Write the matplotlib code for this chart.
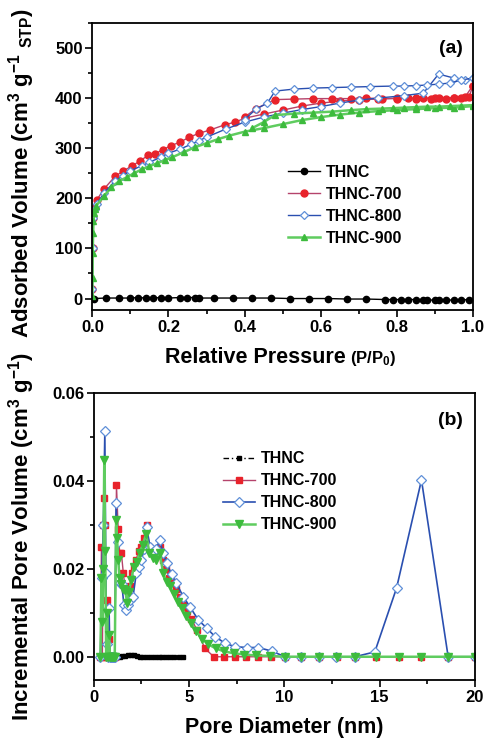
import numpy as np
import matplotlib
matplotlib.use("Agg")
import matplotlib.pyplot as plt
from matplotlib.ticker import MultipleLocator

plt.rcParams['font.family'] = ['Liberation Sans', 'DejaVu Sans']
plt.rcParams['font.weight'] = 'bold'
plt.rcParams['axes.labelweight'] = 'bold'
plt.rcParams['mathtext.fontset'] = 'custom'
plt.rcParams['mathtext.rm'] = 'Liberation Sans:bold'
plt.rcParams['mathtext.it'] = 'Liberation Sans:bold'
plt.rcParams['mathtext.bf'] = 'Liberation Sans:bold'
plt.rcParams['mathtext.default'] = 'rm'

labels = ['THNC', 'THNC-700', 'THNC-800', 'THNC-900']

# ---- (a) N2 isotherms ----
p_thnc = [0.005, 0.035, 0.07, 0.10, 0.12, 0.14, 0.16, 0.18, 0.20, 0.23, 0.25, 0.27, 0.28,
          0.32, 0.37, 0.42, 0.47, 0.52, 0.57, 0.62, 0.67, 0.72, 0.77, 0.79, 0.81, 0.83,
          0.85, 0.87, 0.88, 0.90, 0.91, 0.93, 0.95, 0.97, 0.99]
v_thnc = [0, 1, 1, 1, 2, 1, 1, 2, 1, 2, 2, 2, 1, 1, 1, 1, 1, 0, 0, 0, -1, -1, -2, -2,
          -2, -2, -2, -3, -3, -3, -3, -3, -3, -3, -2]

p_700_ads = [0.0002, 0.001, 0.003, 0.006, 0.011, 0.031, 0.060, 0.080, 0.103, 0.124, 0.147,
             0.165, 0.185, 0.206, 0.230, 0.255, 0.281, 0.308, 0.349, 0.375, 0.401, 0.45,
             0.50, 0.55, 0.60, 0.65, 0.70, 0.75, 0.80, 0.85, 0.90, 0.95, 0.98, 1.0]
v_700_ads = [20, 100, 160, 180, 196, 219, 244, 254, 264, 274, 286, 289, 297, 305, 312, 322,
             330, 336, 347, 352, 360, 368, 376, 384, 390, 394, 397, 398, 400, 400, 400,
             401, 403, 425]
p_700_des = [1.0, 0.99, 0.97, 0.95, 0.93, 0.91, 0.89, 0.87, 0.85, 0.83, 0.80, 0.76, 0.72,
             0.68, 0.63, 0.58, 0.53, 0.48, 0.43, 0.40]
v_700_des = [425, 402, 400, 400, 399, 400, 399, 400, 399, 400, 399, 399, 400, 399, 399,
             399, 398, 397, 379, 362]

p_800_ads = [0.0002, 0.001, 0.003, 0.006, 0.011, 0.03, 0.06, 0.08, 0.10, 0.13, 0.15, 0.18,
             0.20, 0.23, 0.26, 0.28, 0.30, 0.35, 0.40, 0.45, 0.50, 0.55, 0.60, 0.65, 0.70,
             0.75, 0.82, 0.87, 0.91, 0.95, 0.98, 1.0]
v_800_ads = [20, 100, 160, 178, 188, 210, 235, 245, 255, 265, 272, 282, 290, 298, 308, 315,
             322, 338, 352, 362, 370, 377, 383, 390, 396, 400, 405, 410, 448, 440, 437, 440]
p_800_des = [1.0, 0.97, 0.94, 0.91, 0.88, 0.85, 0.82, 0.79, 0.73, 0.68, 0.63, 0.58, 0.53,
             0.48, 0.46, 0.43, 0.40]
v_800_des = [440, 436, 430, 428, 426, 425, 424, 424, 423, 422, 421, 420, 418, 414, 390,
             378, 357]

p_900_ads = [0.0002, 0.0005, 0.001, 0.002, 0.003, 0.005, 0.007, 0.01, 0.03, 0.05, 0.07, 0.09,
             0.11, 0.13, 0.15, 0.17, 0.19, 0.21, 0.24, 0.27, 0.30, 0.33, 0.36, 0.40, 0.45,
             0.50, 0.55, 0.60, 0.65, 0.70, 0.75, 0.80, 0.85, 0.90, 0.95, 1.0]
v_900_ads = [5, 40, 90, 130, 155, 170, 178, 185, 204, 222, 234, 242, 250, 258, 264, 270, 276,
             282, 292, 302, 310, 318, 325, 333, 340, 348, 356, 362, 367, 371, 374, 376, 378,
             380, 381, 384]
p_900_des = [1.0, 0.97, 0.94, 0.91, 0.88, 0.85, 0.82, 0.79, 0.76, 0.72, 0.68, 0.63, 0.58,
             0.53, 0.48, 0.45, 0.42]
v_900_des = [386, 385, 384, 383, 383, 382, 381, 380, 379, 378, 376, 373, 371, 369, 366,
             352, 340]

# ---- (b) pore size distribution ----
d_thnc = [0.40, 0.50, 0.60, 0.70, 0.80, 0.90, 1.00, 1.10, 1.20, 1.35, 1.50, 1.65, 1.80, 1.95,
          2.10, 2.25, 2.40, 2.60, 2.80, 3.00, 3.20, 3.40, 3.60, 3.80, 4.00, 4.20, 4.45, 4.70]
pv_thnc = [0, 0, 0, 0, 0, 0, 0, 0, 0, 0, 0.0001, 0.0002, 0.0005, 0.0005, 0.0003, 0.0001, 0,
           0, 0, 0, 0, 0, 0, 0, 0, 0, 0, 0]

d_700 = [0.35, 0.40, 0.45, 0.50, 0.55, 0.60, 0.65, 0.70, 0.75, 0.79, 0.85, 0.89, 0.95, 1.00,
         1.05, 1.10, 1.19, 1.28, 1.36, 1.45, 1.55, 1.65, 1.78, 1.89, 2.00, 2.10, 2.22, 2.35,
         2.50, 2.62, 2.77, 2.92, 3.10, 3.28, 3.46, 3.62, 3.78, 3.95, 4.12, 4.30, 4.50, 4.70,
         4.90, 5.12, 5.42, 5.83, 6.30, 6.85, 7.40, 8.00, 8.60, 9.30, 10.05, 10.9, 11.8,
         12.75, 13.7, 14.8, 16.0, 17.2, 18.6, 20.0]
pv_700 = [0, 0.025, 0, 0.030, 0.036, 0.030, 0, 0.013, 0, 0.004, 0, 0, 0, 0, 0, 0, 0.039,
          0.029, 0.0235, 0.0235, 0.019, 0.0155, 0.015, 0.016, 0.019, 0.0205, 0.022, 0.024,
          0.025, 0.027, 0.030, 0.025, 0.0235, 0.024, 0.025, 0.022, 0.020, 0.018, 0.017,
          0.0155, 0.0135, 0.0118, 0.0105, 0.0087, 0.0060, 0.0019, 0, 0, 0, 0, 0, 0, 0, 0,
          0, 0, 0, 0, 0, 0, 0, 0]

d_800 = [0.35, 0.42, 0.50, 0.58, 0.63, 0.68, 0.73, 0.80, 0.85, 0.90, 0.95, 1.00, 1.05, 1.10,
         1.17, 1.25, 1.36, 1.47, 1.58, 1.71, 1.80, 1.92, 2.06, 2.23, 2.37, 2.50, 2.64, 2.77,
         2.95, 3.11, 3.28, 3.46, 3.64, 3.82, 4.08, 4.34, 4.69, 5.04, 5.48, 5.93, 6.36, 6.88,
         7.40, 8.02, 8.63, 9.33, 10.04, 10.9, 11.8, 12.7, 13.7, 14.75, 15.89, 17.2, 18.6,
         20.0]
pv_800 = [0, 0.018, 0.030, 0.0513, 0.019, 0.003, 0, 0.011, 0, 0, 0, 0, 0, 0, 0.0349, 0.026,
          0.0167, 0.0165, 0.0118, 0.0106, 0.0118, 0.0130, 0.0137, 0.0190, 0.0205, 0.0220,
          0.0245, 0.0296, 0.0250, 0.0239, 0.0245, 0.0266, 0.0235, 0.0213, 0.0188, 0.0167,
          0.0137, 0.0114, 0.0084, 0.0065, 0.0046, 0.0031, 0.0023, 0.0021, 0.0021, 0.0013,
          0, 0, 0, 0, 0, 0.0011, 0.0156, 0.0402, 0, 0]

d_900 = [0.35, 0.40, 0.45, 0.50, 0.55, 0.60, 0.65, 0.70, 0.75, 0.80, 0.85, 0.90, 0.95, 1.00,
         1.05, 1.10, 1.17, 1.22, 1.28, 1.35, 1.45, 1.55, 1.65, 1.75, 1.85, 1.97, 2.10, 2.25,
         2.40, 2.57, 2.75, 2.92, 3.10, 3.28, 3.46, 3.64, 3.82, 4.00, 4.20, 4.40, 4.62, 4.85,
         5.10, 5.38, 5.68, 6.02, 6.40, 6.85, 7.35, 7.90, 8.50, 9.25, 10.05, 10.9, 11.8,
         12.75, 13.7, 14.8, 16.0, 17.2, 18.6, 20.0]
pv_900 = [0, 0.018, 0.008, 0.020, 0.0448, 0.024, 0, 0.010, 0, 0.005, 0, 0, 0, 0, 0, 0, 0.031,
          0.027, 0.022, 0.018, 0.0165, 0.0155, 0.0152, 0.0122, 0.0148, 0.0175, 0.0205,
          0.0215, 0.0235, 0.0255, 0.0280, 0.0235, 0.0225, 0.0220, 0.0236, 0.0190, 0.0170,
          0.0160, 0.0142, 0.0125, 0.0110, 0.0093, 0.0076, 0.0058, 0.0041, 0.0028, 0.0019,
          0.0012, 0.0008, 0.0005, 0.0003, 0.0002, 0, 0, 0, 0, 0, 0, 0, 0, 0, 0]

red_m, red_l = '#e8232b', '#b5436b'
blue_l, blue_m = '#2a4fb0', '#5f8fd8'
green_m, green_l = '#3dbb3d', '#5fcc5f'

fig = plt.figure(figsize=(4.86, 7.40), dpi=100)
ax1 = fig.add_axes([0.190, 0.581, 0.783, 0.388])
ax2 = fig.add_axes([0.193, 0.081, 0.784, 0.388])

for ax in (ax1, ax2):
    for s in ax.spines.values():
        s.set_linewidth(1.3)
    ax.tick_params(which='both', direction='out', top=False, right=False, width=1.2,
                   labelsize=12, pad=2)
    ax.tick_params(which='major', length=5)
    ax.tick_params(which='minor', length=3)

# (a)
ax1.plot(p_thnc, v_thnc, '-', color='black', lw=1.0, marker='o', ms=4.5, mfc='black',
         mec='black', label=labels[0])
ax1.plot(p_700_ads, v_700_ads, '-', color=red_l, lw=1.0, marker='o', ms=5, mfc=red_m,
         mec=red_m, label=labels[1])
ax1.plot(p_700_des, v_700_des, '-', color=red_l, lw=1.0, marker='o', ms=5, mfc=red_m, mec=red_m)
ax1.plot(p_800_ads, v_800_ads, '-', color=blue_l, lw=1.0, marker='D', ms=4.5, mfc='white',
         mec=blue_m, mew=0.9, label=labels[2])
ax1.plot(p_800_des, v_800_des, '-', color=blue_l, lw=1.0, marker='D', ms=4.5, mfc='white',
         mec=blue_m, mew=0.9)
ax1.plot(p_900_ads, v_900_ads, '-', color=green_l, lw=1.8, marker='^', ms=5, mfc=green_m,
         mec=green_m, label=labels[3])
ax1.plot(p_900_des, v_900_des, '-', color=green_l, lw=1.8, marker='^', ms=5, mfc=green_m,
         mec=green_m)

ax1.set_xlim(0, 1.0)
ax1.set_ylim(-23, 550)
ax1.xaxis.set_major_locator(MultipleLocator(0.2))
ax1.xaxis.set_minor_locator(MultipleLocator(0.1))
ax1.yaxis.set_major_locator(MultipleLocator(100))
ax1.yaxis.set_minor_locator(MultipleLocator(50))
ax1.set_xticklabels(['%.1f' % t for t in ax1.get_xticks()])
ax1.set_ylabel(r'Adsorbed Volume (cm$^{3}$ g$^{-1}$ $_{\mathregular{STP}}$)', fontsize=16)
ax1.yaxis.set_label_coords(-0.145, 0.475)
ax1.text(0.665, -0.128, 'Relative Pressure', transform=ax1.transAxes, ha='right', va='top',
         fontsize=15.5)
ax1.text(0.678, -0.135, r'(P/P$_\mathregular{0}$)', transform=ax1.transAxes, ha='left',
         va='top', fontsize=12)
ax1.text(0.975, 0.91, '(a)', transform=ax1.transAxes, ha='right', va='center', fontsize=14)
ax1.legend(loc='center left', bbox_to_anchor=(0.514, 0.364), frameon=False, fontsize=11.5,
           handlelength=2.0, handletextpad=0.4, labelspacing=0.44, borderpad=0,
           borderaxespad=0)

# (b)
ax2.plot(d_thnc, pv_thnc, color='black', lw=1.0, ls=(0, (4, 2, 1, 2)), marker='s', ms=2.2,
         label=labels[0])
ax2.plot(d_700, pv_700, '-', color=red_l, lw=1.0, marker='s', ms=5, mfc=red_m, mec=red_m,
         label=labels[1])
ax2.plot(d_800, pv_800, '-', color=blue_l, lw=1.2, marker='D', ms=5, mfc='white', mec=blue_m,
         mew=0.9, label=labels[2])
ax2.plot(d_900, pv_900, '-', color=green_l, lw=1.8, marker='v', ms=5.5, mfc=green_m,
         mec=green_m, label=labels[3])

ax2.set_xlim(0, 20)
ax2.set_ylim(-0.0053, 0.06)
ax2.xaxis.set_major_locator(MultipleLocator(5))
ax2.xaxis.set_minor_locator(MultipleLocator(2.5))
ax2.yaxis.set_major_locator(MultipleLocator(0.02))
ax2.yaxis.set_minor_locator(MultipleLocator(0.01))
ax2.set_yticklabels(['%.2f' % t for t in ax2.get_yticks()])
ax2.set_ylabel(r'Incremental Pore Volume (cm$^{3}$ g$^{-1}$)', fontsize=16)
ax2.yaxis.set_label_coords(-0.15, 0.5)
ax2.set_xlabel('Pore Diameter (nm)', fontsize=15.5)
ax2.xaxis.set_label_coords(0.5, -0.128)
ax2.text(0.968, 0.905, '(b)', transform=ax2.transAxes, ha='right', va='center', fontsize=14)
ax2.legend(loc='center left', bbox_to_anchor=(0.339, 0.656), frameon=False, fontsize=11.5,
           handlelength=2.0, handletextpad=0.4, labelspacing=0.44, borderpad=0,
           borderaxespad=0)

fig.canvas.draw()
for ax in (ax1, ax2):
    for lab in ax.get_xticklabels() + ax.get_yticklabels():
        lab.set_fontweight('bold')

fig.savefig('out.png', dpi=100)
